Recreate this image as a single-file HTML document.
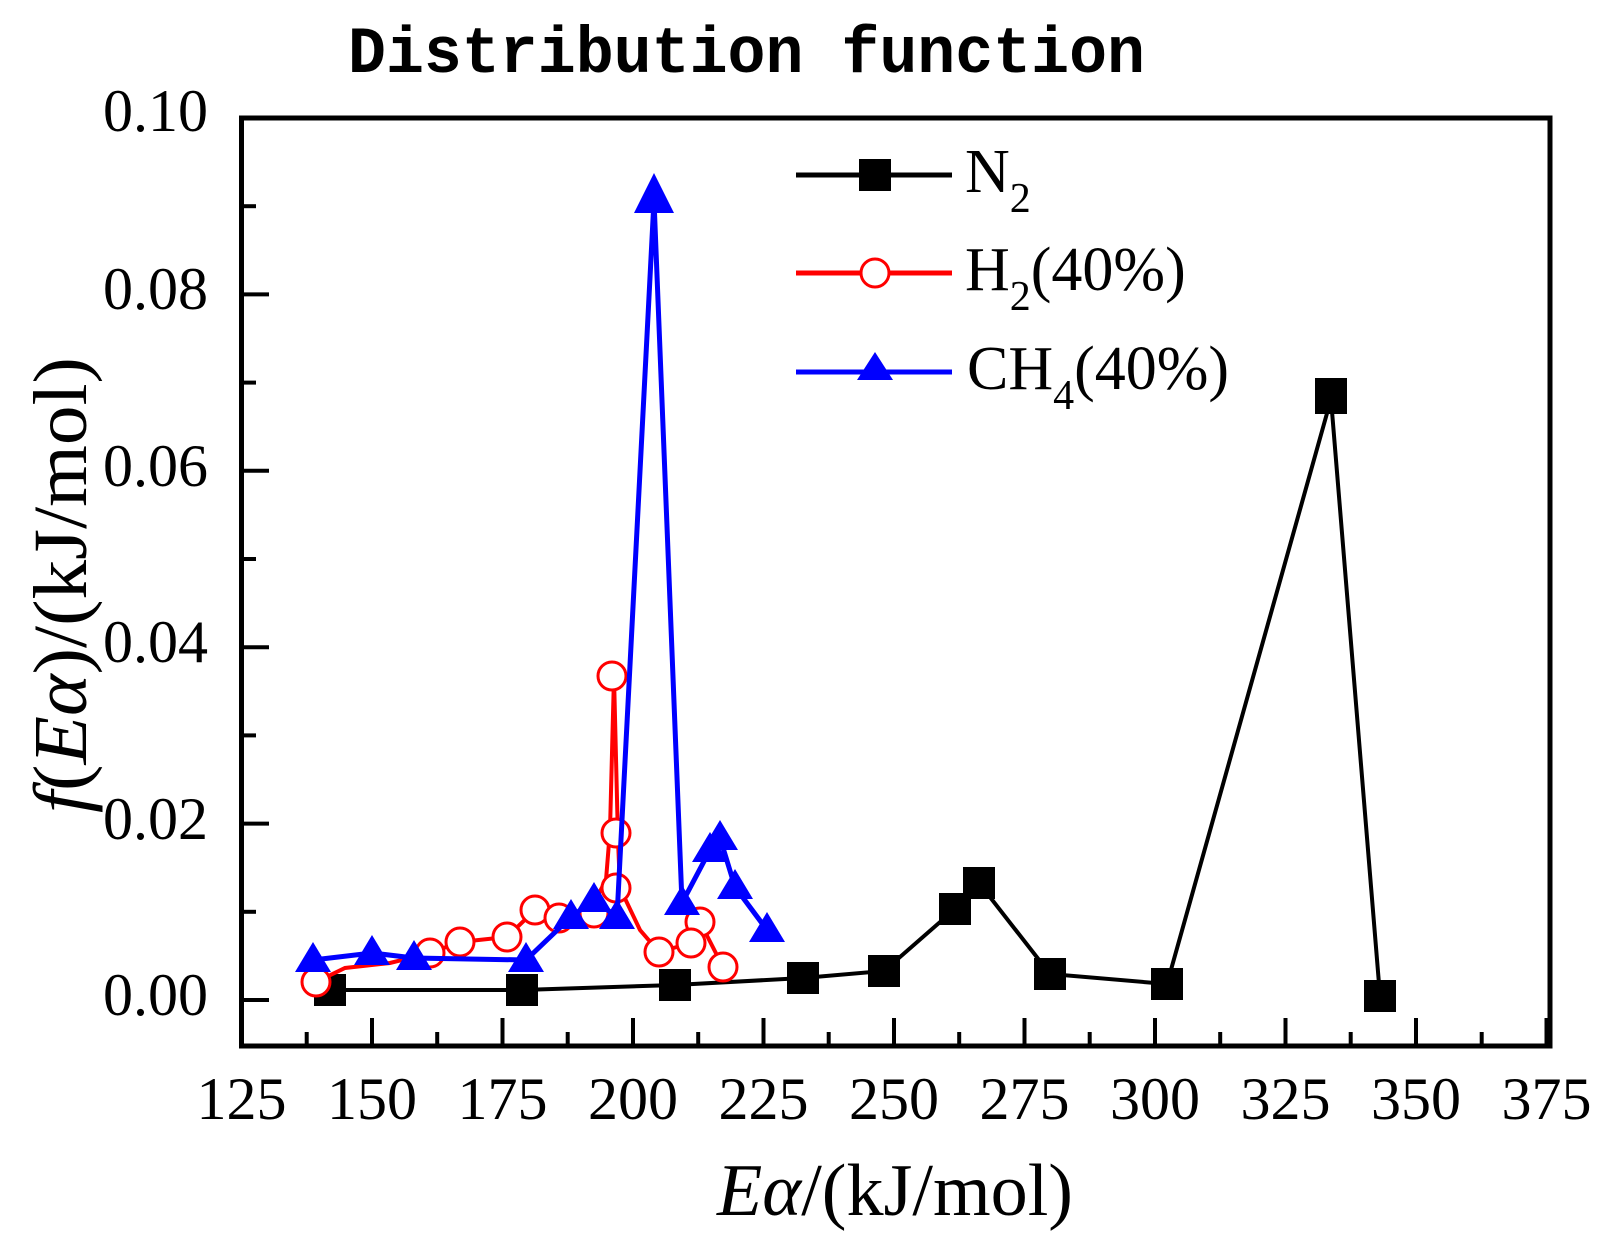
<!DOCTYPE html>
<html><head><meta charset="utf-8"><style>
html,body{margin:0;padding:0;background:#fff;}
svg{display:block;}
</style></head><body>
<svg width="1599" height="1244" viewBox="0 0 1599 1244" xmlns="http://www.w3.org/2000/svg" font-family="'Liberation Serif', serif">
<text x="348" y="72" font-family="'Liberation Mono', monospace" font-weight="bold" font-size="66" textLength="797" lengthAdjust="spacingAndGlyphs" fill="#000">Distribution function</text>
<rect x="241.5" y="118" width="1308.5" height="928" fill="none" stroke="#000" stroke-width="5"/>
<g stroke="#000" stroke-width="4">
<line x1="372" y1="1046" x2="372" y2="1018"/>
<line x1="633" y1="1046" x2="633" y2="1018"/>
<line x1="894" y1="1046" x2="894" y2="1018"/>
<line x1="1155" y1="1046" x2="1155" y2="1018"/>
<line x1="1416" y1="1046" x2="1416" y2="1018"/>
<line x1="306.7" y1="1046" x2="306.7" y2="1032"/>
<line x1="502.5" y1="1046" x2="502.5" y2="1018"/>
<line x1="437.2" y1="1046" x2="437.2" y2="1032"/>
<line x1="567.7" y1="1046" x2="567.7" y2="1032"/>
<line x1="763.5" y1="1046" x2="763.5" y2="1018"/>
<line x1="698.2" y1="1046" x2="698.2" y2="1032"/>
<line x1="828.7" y1="1046" x2="828.7" y2="1032"/>
<line x1="1024.5" y1="1046" x2="1024.5" y2="1018"/>
<line x1="959.2" y1="1046" x2="959.2" y2="1032"/>
<line x1="1089.7" y1="1046" x2="1089.7" y2="1032"/>
<line x1="1285.5" y1="1046" x2="1285.5" y2="1018"/>
<line x1="1220.2" y1="1046" x2="1220.2" y2="1032"/>
<line x1="1350.7" y1="1046" x2="1350.7" y2="1032"/>
<line x1="1481.7" y1="1046" x2="1481.7" y2="1032"/>
<line x1="1546.5" y1="1046" x2="1546.5" y2="1018"/>
<line x1="241.5" y1="1000" x2="269" y2="1000"/>
<line x1="241.5" y1="823.6" x2="269" y2="823.6"/>
<line x1="241.5" y1="647.2" x2="269" y2="647.2"/>
<line x1="241.5" y1="470.8" x2="269" y2="470.8"/>
<line x1="241.5" y1="294.4" x2="269" y2="294.4"/>
<line x1="241.5" y1="911.8" x2="256" y2="911.8"/>
<line x1="241.5" y1="735.4" x2="256" y2="735.4"/>
<line x1="241.5" y1="559" x2="256" y2="559"/>
<line x1="241.5" y1="382.6" x2="256" y2="382.6"/>
<line x1="241.5" y1="206.2" x2="256" y2="206.2"/>
</g>
<g font-size="60" fill="#000" text-anchor="end">
<text x="208" y="1015">0.00</text>
<text x="208" y="839">0.02</text>
<text x="208" y="662">0.04</text>
<text x="208" y="486">0.06</text>
<text x="208" y="309">0.08</text>
<text x="208" y="131">0.10</text>
</g>
<g font-size="60" fill="#000" text-anchor="middle">
<text x="241.5" y="1119">125</text>
<text x="372" y="1119">150</text>
<text x="502.5" y="1119">175</text>
<text x="633" y="1119">200</text>
<text x="763.5" y="1119">225</text>
<text x="894" y="1119">250</text>
<text x="1024.5" y="1119">275</text>
<text x="1155" y="1119">300</text>
<text x="1285.5" y="1119">325</text>
<text x="1416" y="1119">350</text>
<text x="1546.5" y="1119">375</text>
</g>
<text x="717" y="1215" font-size="74" textLength="356" lengthAdjust="spacingAndGlyphs"><tspan font-style="italic">Eα</tspan>/(kJ/mol)</text>
<text transform="translate(86,813) rotate(-90)" font-size="76" textLength="456" lengthAdjust="spacingAndGlyphs"><tspan font-style="italic">f</tspan>(<tspan font-style="italic">Eα</tspan>)/(kJ/mol)</text>

<polyline fill="none" stroke="#000" stroke-width="4" points="330,990 522,990 675,985 803,978 884,971 955,909 979,883 1050,974 1167,984 1331,399 1380,996"/>
<g fill="#000">
<rect x="314" y="974" width="32" height="32"/><rect x="506" y="974" width="32" height="32"/><rect x="659" y="969" width="32" height="32"/><rect x="787" y="962" width="32" height="32"/><rect x="868" y="955" width="32" height="32"/><rect x="939" y="893" width="32" height="32"/><rect x="963" y="867" width="32" height="32"/><rect x="1034" y="958" width="32" height="32"/><rect x="1151" y="968" width="32" height="32"/><rect x="1315" y="378" width="32" height="36"/><rect x="1364" y="980" width="32" height="32"/>
</g>
<polyline fill="none" stroke="#f00" stroke-width="4" points="316,982 345,968 390,963 430,953 460,942 507,937 535,910 559,918 590,910 606,880 610,830 614,676 618,840 620,888 640,930 659,952 691,943 700,922 723,967"/>
<g fill="#fff" stroke="#f00" stroke-width="3">
<circle cx="316" cy="982" r="14"/><circle cx="430" cy="953" r="14"/><circle cx="460" cy="942" r="14"/><circle cx="507" cy="937" r="14"/><circle cx="535" cy="910" r="14"/><circle cx="559" cy="918" r="14"/><circle cx="594" cy="913" r="14"/><circle cx="616" cy="888" r="14"/><circle cx="616" cy="833" r="14"/><circle cx="612" cy="676" r="14"/><circle cx="659" cy="952" r="14"/><circle cx="700" cy="922" r="14"/><circle cx="691" cy="943" r="14"/><circle cx="723" cy="967" r="14"/>
</g>
<polyline fill="none" stroke="#00f" stroke-width="5" points="313,960 372,953 414,958 526,960 571,917 594,900 617,917 654,200 682,903 710,850 720,838 735,887 767,930"/>
<g fill="#00f">
<path d="M313,942 l18,30 h-36z"/><path d="M372,935 l18,30 h-36z"/><path d="M414,940 l18,30 h-36z"/><path d="M526,942 l18,30 h-36z"/><path d="M571,899 l18,30 h-36z"/><path d="M594,882 l18,30 h-36z"/><path d="M617,899 l18,30 h-36z"/><path d="M654,173 l20,40 h-40z"/><path d="M682,885 l18,30 h-36z"/><path d="M710,832 l18,30 h-36z"/><path d="M720,820 l18,30 h-36z"/><path d="M735,869 l18,30 h-36z"/><path d="M767,912 l18,30 h-36z"/>
</g>
<line x1="796" y1="175" x2="952" y2="175" stroke="#000" stroke-width="5"/>
<rect x="859" y="159" width="32" height="32" fill="#000"/>
<line x1="796" y1="273" x2="952" y2="273" stroke="#f00" stroke-width="5"/>
<circle cx="875" cy="273" r="14" fill="#fff" stroke="#f00" stroke-width="3"/>
<line x1="796" y1="372" x2="952" y2="372" stroke="#00f" stroke-width="5"/>
<path d="M875,352 l18,28 h-36z" fill="#00f"/>
<g font-size="62" fill="#000">
<text x="965" y="192">N<tspan font-size="42" dy="20">2</tspan></text>
<text x="965" y="290">H<tspan font-size="42" dy="20">2</tspan><tspan dy="-20">(40%)</tspan></text>
<text x="967" y="389">CH<tspan font-size="42" dy="20">4</tspan><tspan dy="-20">(40%)</tspan></text>
</g>
</svg>
</body></html>
